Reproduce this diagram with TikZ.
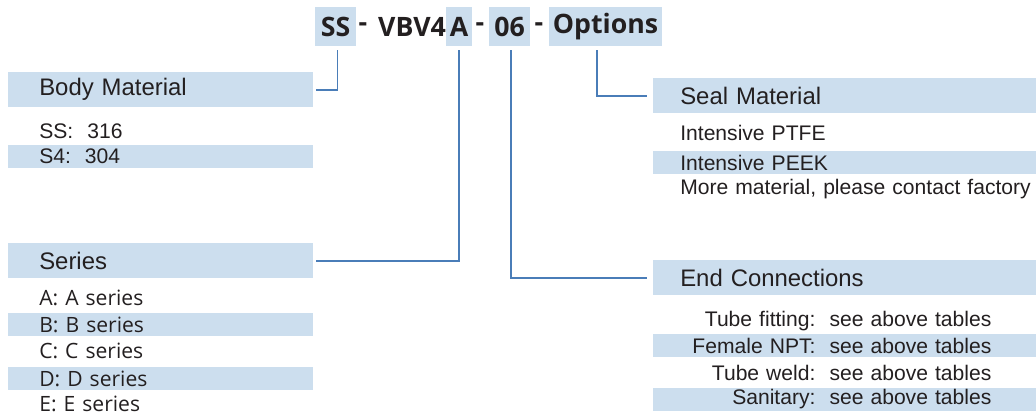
\documentclass[tikz,border=0pt]{standalone}
\usepackage{fontspec}
\setmainfont{Liberation Sans}
\newfontfamily\codefont{Open Sans}
\usepackage{tikz}
\usetikzlibrary{positioning}
\definecolor{KeyBand}{HTML}{CCDEEE}
\definecolor{KeyLine}{HTML}{4A7DB8}
\definecolor{KeyInk}{HTML}{231F20}
\tikzset{
  codetext/.style={font=\codefont\bfseries\fontsize{19pt}{22pt}\selectfont, text=KeyInk, inner sep=0pt},
  codebox/.style={codetext, fill=KeyBand, minimum height=0.975cm},
  headbox/.style={fill=KeyBand, minimum height=0.875cm, inner sep=0pt, align=left, anchor=north west, font=\fontsize{17pt}{20pt}\selectfont, text=KeyInk},
  rowbox/.style={minimum height=0.575cm, inner sep=0pt, align=left, anchor=west, font=\fontsize{15pt}{18pt}\selectfont, text=KeyInk},
  seriesrow/.style={rowbox, leftpanel, font=\codefont\fontsize{15pt}{18pt}\selectfont},
  band/.style={fill=KeyBand},
  leftpanel/.style={text width=7.625cm, execute at begin node={\hspace*{0.775cm}}},
  rightpanel/.style={text width=9.575cm, execute at begin node={\hspace*{0.675cm}}},
  endrow/.style={rowbox, text width=9.575cm, align=right, execute at end node={\hspace*{1.125cm}}},
  keyline/.style={draw=KeyLine, line width=1.1pt}
}
\begin{document}
\begin{tikzpicture}[x=0.025cm, y=-0.025cm]
\useasboundingbox (0,0) rectangle (1036,415);
% ordering code
\node[codebox, minimum width=1.025cm] (ss) at (335.5,26.5) {SS};
\node[codetext] (dash1) at (363,27) {-};
\node[codetext] (vbv) at (412,26.5) {VBV4};
\node[codebox, minimum width=0.65cm] (ser) at (459,26.5) {A};
\node[codetext] (dash2) at (480,27) {-};
\node[codebox, minimum width=1.025cm] (size) at (509.5,26.5) {06};
\node[codetext] (dash3) at (539,27) {-};
\node[codebox, minimum width=2.825cm] (opt) at (605.5,26.5) {Options};
% body material
\node[headbox, leftpanel] (body) at (8,72) {Body Material};
\node[rowbox, leftpanel] (ss316) at (8,131) {SS:\ \ 316};
\node[rowbox, leftpanel, band] (s4304) at (8,156.5) {S4:\ \ 304};
% series
\node[headbox, leftpanel] (series) at (8,243) {Series};
\node[seriesrow] (sera) at (8,298) {A: A series};
\node[seriesrow, band] (serb) at (8,324.5) {B: B series};
\node[seriesrow] (serc) at (8,351) {C: C series};
\node[seriesrow, band] (serd) at (8,378.5) {D: D series};
\node[seriesrow] (sere) at (8,404) {E: E series};
% seal material
\node[headbox, rightpanel] (seal) at (653,78) {Seal Material};
\node[rowbox, rightpanel] (ptfe) at (653,133) {Intensive PTFE};
\node[rowbox, rightpanel, band] (peek) at (653,162.5) {Intensive PEEK};
\node[rowbox, rightpanel] (more) at (653,189) {More material, please contact factory};
% end connections
\node[headbox, rightpanel] (endc) at (653,260) {End Connections};
\node[endrow] (tubefit) at (653,321) {Tube fitting:\ \ see above tables};
\node[endrow, band] (npt) at (653,345.5) {Female NPT:\ \ see above tables};
\node[endrow] (weld) at (653,373) {Tube weld:\ \ see above tables};
\node[endrow, band] (sanit) at (653,399) {Sanitary:\ \ see above tables};
% leaders
\draw[keyline, shorten >=2pt] ([xshift=1.5pt, yshift=-0.1cm]ss.south) |- (body.east);
\draw[keyline, shorten >=2pt] ([yshift=-0.1cm]ser.south) |- (series.east);
\draw[keyline, shorten >=4pt] ([xshift=1pt, yshift=-0.1cm]size.south) |- (endc.west);
\draw[keyline, shorten >=4pt] ([xshift=-0.21cm, yshift=-0.1cm]opt.south) |- (seal.west);
\end{tikzpicture}
\end{document}
